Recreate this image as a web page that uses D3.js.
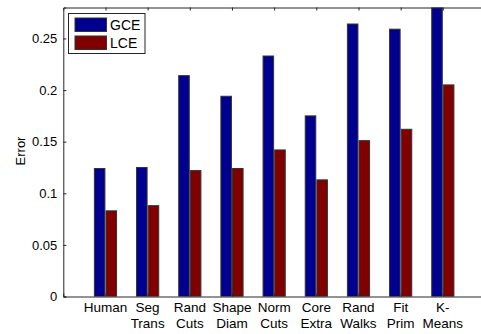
<!DOCTYPE html>
<html>
<head>
<meta charset="utf-8">
<script src="https://d3js.org/d3.v7.min.js"></script>
<style>
  html, body { margin: 0; padding: 0; background: #fff; }
  svg { display: block; }
  text { font-family: "Liberation Sans", Arial, sans-serif; fill: #000; }
</style>
</head>
<body>
<svg id="chart" width="481" height="334"></svg>
<script>
// Method names, two lines each
const categories = [
  ["Human", ""], ["Seg", "Trans"], ["Rand", "Cuts"], ["Shape", "Diam"],
  ["Norm", "Cuts"], ["Core", "Extra"], ["Rand", "Walks"], ["Fit", "Prim"], ["K-", "Means"]
];
const gceValues = [0.124, 0.125, 0.214, 0.194, 0.233, 0.175, 0.264, 0.259, 0.29];
const lceValues = [0.083, 0.088, 0.122, 0.124, 0.142, 0.113, 0.151, 0.162, 0.205];
const seriesNames = ["GCE", "LCE"];
const seriesColors = ["#000090", "#800000"];
const yTicks = [0, 0.05, 0.1, 0.15, 0.2, 0.25];

const svg = d3.select("#chart");
const plotLeft = 63.3, plotRight = 485, plotTop = 7.5, plotBottom = 296.5;

// Group positions 1..9 on a 0..10 axis
const x = d3.scaleLinear().domain([0, 10]).range([plotLeft, plotRight]);
const y = d3.scaleLinear().domain([0, 0.28]).range([plotBottom, plotTop]);

svg.append("defs").append("clipPath").attr("id", "plotclip")
  .append("rect").attr("x", plotLeft).attr("y", plotTop)
  .attr("width", plotRight - plotLeft).attr("height", plotBottom - plotTop);

const barW = 0.25, off = 0.138;
const series = [gceValues, lceValues];
const plot = svg.append("g").attr("clip-path", "url(#plotclip)");
series.forEach((vals, si) => {
  plot.selectAll(null).data(vals).enter().append("rect")
    .attr("x", (d, i) => x(i + 1 + (si === 0 ? -off : off) - barW / 2))
    .attr("y", d => y(d))
    .attr("width", x(barW) - x(0))
    .attr("height", d => y(0) - y(d))
    .attr("fill", seriesColors[si])
    .attr("stroke", "#333")
    .attr("stroke-width", 1);
});

const axisColor = "#262626";
const idx = d3.range(1, 10);

// Bottom axis
const xb = svg.append("g").attr("transform", `translate(0,${plotBottom})`)
  .call(d3.axisBottom(x).tickValues(idx).tickSize(-3).tickFormat(""));
// Top axis
const xt = svg.append("g").attr("transform", `translate(0,${plotTop})`)
  .call(d3.axisTop(x).tickValues(idx).tickSize(-3).tickFormat(""));
// Left axis
const yl = svg.append("g").attr("transform", `translate(${plotLeft},0)`)
  .call(d3.axisLeft(y).tickValues(yTicks).tickSize(-3).tickPadding(6)
    .tickFormat(d => d === 0 ? "0" : String(+d.toFixed(2))));
[xb, xt, yl].forEach(g => {
  g.select(".domain").attr("stroke", axisColor);
  g.selectAll(".tick line").attr("stroke", axisColor);
});
yl.selectAll(".tick text").attr("font-size", 13).attr("fill", "#000")
  .attr("font-family", "'Liberation Sans', Arial, sans-serif");

// Two-line category labels
const lab = svg.append("g");
categories.forEach((c, i) => {
  c.forEach((line, li) => {
    if (!line) return;
    lab.append("text")
      .attr("x", x(i + 1))
      .attr("y", 311.5 + li * 16)
      .attr("text-anchor", "middle")
      .attr("font-size", 13.5)
      .text(line);
  });
});

// Y axis title
svg.append("text")
  .attr("transform", "translate(24.5,151) rotate(-90)")
  .attr("text-anchor", "middle")
  .attr("font-size", 13)
  .text("Error");

// Legend
const lg = svg.append("g");
lg.append("rect").attr("x", 68.5).attr("y", 13.5).attr("width", 76.5).attr("height", 40)
  .attr("fill", "#fff").attr("stroke", axisColor).attr("stroke-width", 1);
seriesNames.forEach((n, i) => {
  lg.append("rect").attr("x", 75).attr("y", 18 + i * 18).attr("width", 31.5).attr("height", 13.5)
    .attr("fill", seriesColors[i]).attr("stroke", "#333");
  lg.append("text").attr("x", 110).attr("y", 30 + i * 18).attr("font-size", 14).text(n);
});
</script>
</body>
</html>
